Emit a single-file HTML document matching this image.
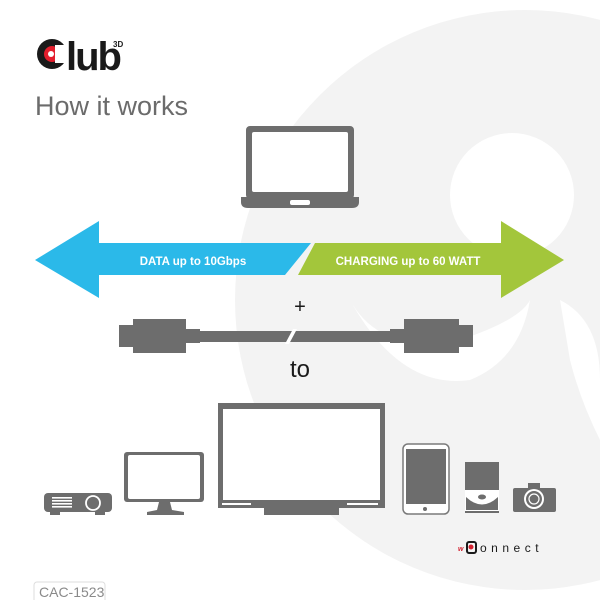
<!DOCTYPE html>
<html><head><meta charset="utf-8"><style>
html,body{margin:0;padding:0;background:#fff;}
svg{display:block;}
text{font-family:"Liberation Sans",sans-serif;}
</style></head><body>
<svg width="600" height="600" viewBox="0 0 600 600" xmlns="http://www.w3.org/2000/svg">
<rect width="600" height="600" fill="#fff"/>
<!-- background club shape -->
<circle cx="525" cy="300" r="290" fill="#f3f3f3"/>
<circle cx="512" cy="195" r="62" fill="#fff"/>
<path d="M350 300 Q380 355 460 340 Q520 320 530 300 Q520 360 470 380 Q400 390 350 300Z" fill="#fff"/>
<path d="M560 300 Q600 320 600 380 L600 440 Q580 400 570 360Z" fill="#fff"/>
<!-- logo -->
<circle cx="52" cy="54" r="15" fill="#1a1a1a"/>
<circle cx="52" cy="54" r="8" fill="#e31e2d"/>
<rect x="55" y="45" width="14" height="18" fill="#fff"/>
<circle cx="51" cy="54" r="3" fill="#fff"/>
<text x="66" y="70" font-size="40" font-weight="bold" fill="#1a1a1a" letter-spacing="-2">lub</text>
<text x="113" y="47" font-size="8" font-weight="bold" fill="#1a1a1a">3D</text>
<!-- title -->
<text x="35" y="115" font-size="27" fill="#6b6b6b">How it works</text>
<!-- laptop -->
<rect x="246" y="126" width="108" height="73" rx="4" fill="#6d6d6d"/>
<rect x="252" y="132" width="96" height="60" rx="2" fill="#fff"/>
<path d="M241 197 L359 197 L359 202 Q359 208 352 208 L248 208 Q241 208 241 202Z" fill="#6d6d6d"/>
<rect x="290" y="200" width="20" height="5" rx="2" fill="#fff"/>
<!-- arrows -->
<path d="M35 260 L99 221 L99 243 L311 243 L285 275 L99 275 L99 298Z" fill="#2bb9e9"/>
<path d="M315 243 L501 243 L501 221 L564 260 L501 298 L501 275 L298 275Z" fill="#a3c63b"/>
<text x="193" y="265" font-size="11.5" font-weight="bold" fill="#fff" text-anchor="middle">DATA up to 10Gbps</text>
<text x="408" y="265" font-size="11.5" font-weight="bold" fill="#fff" text-anchor="middle">CHARGING up to 60 WATT</text>
<!-- plus -->
<text x="300" y="313" font-size="20" fill="#1a1a1a" text-anchor="middle">+</text>
<!-- cable -->
<g fill="#6d6d6d">
<rect x="119" y="325" width="15" height="22"/>
<rect x="133" y="319" width="53" height="34"/>
<rect x="186" y="329" width="14" height="14"/>
<rect x="200" y="331" width="190" height="11"/>
<rect x="390" y="329" width="14" height="14"/>
<rect x="404" y="319" width="55" height="34"/>
<rect x="459" y="325" width="14" height="22"/>
</g>
<path d="M293 329 L297 329 L289 344 L285 344Z" fill="#fff"/>
<text x="300" y="377" font-size="24" fill="#1a1a1a" text-anchor="middle">to</text>
<!-- TV -->
<rect x="218" y="403" width="167" height="105" fill="#6d6d6d"/>
<rect x="223" y="409" width="157" height="91" fill="#fff"/>
<rect x="222" y="503" width="29" height="2" fill="#fff"/>
<rect x="347" y="503" width="31" height="2" fill="#fff"/>
<rect x="264" y="508" width="75" height="7" fill="#6d6d6d"/>
<!-- monitor -->
<rect x="124" y="452" width="80" height="50" rx="3" fill="#6d6d6d"/>
<rect x="128" y="455" width="72" height="44" rx="2" fill="#fff"/>
<path d="M159 502 L170 502 L172 510 L184 512 L184 515 L147 515 L147 512 L157 510Z" fill="#6d6d6d"/>
<!-- projector -->
<rect x="44" y="493" width="68" height="19" rx="4" fill="#6d6d6d"/>
<rect x="50" y="511" width="10" height="4" fill="#6d6d6d"/>
<rect x="95" y="511" width="10" height="4" fill="#6d6d6d"/>
<g fill="#fff"><rect x="52" y="497" width="20" height="1.6"/><rect x="52" y="500" width="20" height="1.6"/><rect x="52" y="503" width="20" height="1.6"/><rect x="52" y="506" width="20" height="1.6"/></g>
<circle cx="93" cy="503" r="7" fill="none" stroke="#fff" stroke-width="1.8"/>
<!-- phone -->
<rect x="403" y="444" width="46" height="70" rx="5" fill="#fff" stroke="#7a7a7a" stroke-width="1.5"/>
<rect x="406" y="449" width="40" height="55" fill="#6d6d6d"/>
<circle cx="425" cy="509" r="2" fill="#6d6d6d"/>
<!-- disc player -->
<rect x="465" y="462" width="34" height="28" fill="#6d6d6d"/>
<path d="M465 490 L499 490 L499 513 L465 513Z" fill="#fff"/>
<path d="M466 497 Q482 512 498 497 L498 510 L466 510Z" fill="#6d6d6d"/>
<ellipse cx="482" cy="497" rx="4" ry="2.5" fill="#6d6d6d"/>
<rect x="465" y="511" width="34" height="2" fill="#6d6d6d"/>
<!-- camera -->
<rect x="513" y="488" width="43" height="24" rx="2" fill="#6d6d6d"/>
<rect x="528" y="483" width="12" height="6" fill="#6d6d6d"/>
<circle cx="534" cy="499" r="10" fill="#fff"/>
<circle cx="534" cy="499" r="8" fill="#6d6d6d"/>
<circle cx="534" cy="499" r="5" fill="none" stroke="#fff" stroke-width="1.2"/>
<!-- weconnect -->
<text x="458" y="551" font-size="7" font-weight="bold" font-style="italic" fill="#d3202f">w</text>
<rect x="467" y="542" width="9" height="11" rx="2" fill="none" stroke="#1a1a1a" stroke-width="2"/>
<circle cx="471" cy="547" r="2.5" fill="#d3202f"/>
<text x="480" y="552" font-size="12" fill="#1a1a1a" letter-spacing="4.5">onnect</text>
<!-- CAC -->
<rect x="34" y="582" width="71" height="22" rx="3" fill="#fff" stroke="#ddd"/>
<text x="39" y="597" font-size="14" fill="#8a8a8a">CAC-1523</text>
</svg>
</body></html>
